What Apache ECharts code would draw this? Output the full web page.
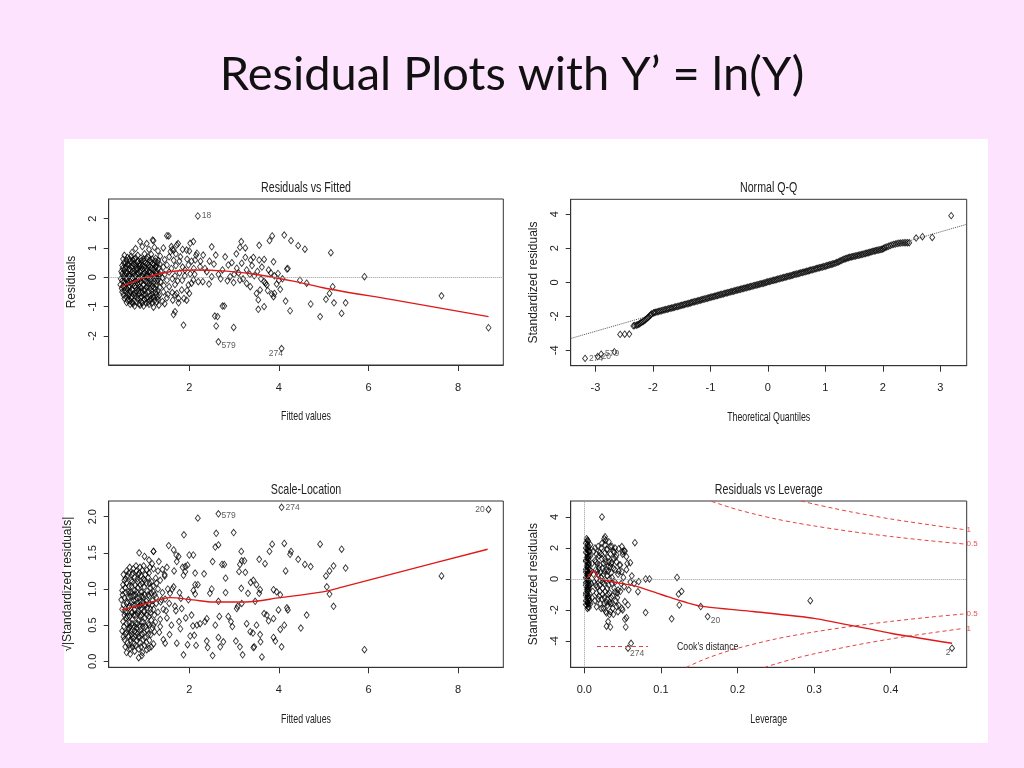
<!DOCTYPE html>
<html><head><meta charset="utf-8">
<script src="https://cdn.jsdelivr.net/npm/echarts@6/dist/echarts.min.js"></script>
<style>html,body{margin:0;padding:0;background:#fee3fe}#c{width:1024px;height:768px}</style>
</head><body><div id="c"></div><script>
// ---------- texts ----------
const slideTitle = 'Residual Plots with Y\u2019 = ln(Y)';
const panelTitles = ['Residuals vs Fitted', 'Normal Q-Q', 'Scale-Location', 'Residuals vs Leverage'];
const xNames = ['Fitted values', 'Theoretical Quantiles', 'Fitted values', 'Leverage'];
const yNames = ['Residuals', 'Standardized residuals', '\u221A|Standardized residuals|', 'Standardized residuals'];
const xTicks = [[2, 4, 6, 8], [-3, -2, -1, 0, 1, 2, 3], [2, 4, 6, 8], [0, 0.1, 0.2, 0.3, 0.4]];
const yTicks = [[-2, -1, 0, 1, 2], [-4, -2, 0, 2, 4], [0, 0.5, 1, 1.5, 2], [-4, -2, 0, 2, 4]];
const xRanges = [[0.2, 9.01], [-3.43, 3.46], [0.2, 9.01], [-0.0178, 0.4992]];
const yRanges = [[-2.99, 2.67], [-4.9, 4.88], [-0.083, 2.217], [-5.7, 5.03]];
const cookLegend = "Cook's distance";

// ---------- panel 1: residuals vs fitted ----------
const resFitPoints = [
[0.9,1.22],[1.18,1.27],[1.05,1.15],[1.5,1.42],
[0.72,0.85],[0.8,0.98],[0.95,1.05],[1.1,0.95],[1.22,1.02],[1.3,0.9],[1.42,1.0],[1.6,1.05],[1.75,1.15],[1.58,0.88],[1.85,0.95],[2.0,0.9],
[0.55,0.75],[0.62,0.68],[0.7,0.72],[0.78,0.62],[0.85,0.75],[0.92,0.66],[1.0,0.8],[1.08,0.7],[1.15,0.78],[1.25,0.65],[1.35,0.72],[1.45,0.6],[1.55,0.7],[1.65,0.58],[1.8,0.7],[1.95,0.62],[2.05,0.55],
[0.5,0.4],[0.58,0.48],[0.65,0.42],[0.72,0.5],[0.8,0.38],[0.88,0.46],[0.95,0.4],[1.02,0.5],[1.1,0.42],[1.18,0.48],[1.26,0.38],[1.34,0.45],[1.42,0.35],[1.5,0.42],[1.6,0.3],[1.7,0.4],[1.85,0.35],[1.98,0.42],[2.1,0.3],
[0.48,0.2],[0.55,0.25],[0.62,0.15],[0.68,0.22],[0.75,0.12],[0.82,0.25],[0.9,0.18],[0.97,0.1],[1.05,0.22],[1.12,0.15],[1.2,0.25],[1.28,0.12],[1.36,0.2],[1.45,0.1],[1.55,0.18],[1.68,0.05],[1.78,0.15],[1.9,0.05],[2.02,0.12],
[0.47,-0.05],[0.53,0.02],[0.6,-0.08],[0.66,0.05],[0.73,-0.02],[0.8,0.04],[0.87,-0.06],[0.94,0.0],[1.0,-0.1],[1.08,0.02],[1.15,-0.05],[1.23,0.05],[1.3,-0.08],[1.4,-0.02],[1.5,-0.1],[1.62,-0.05],[1.74,-0.12],
[0.46,-0.25],[0.52,-0.3],[0.58,-0.2],[0.64,-0.32],[0.7,-0.22],[0.77,-0.3],[0.84,-0.2],[0.9,-0.33],[0.97,-0.25],[1.04,-0.35],[1.11,-0.22],[1.18,-0.3],[1.26,-0.25],[1.34,-0.35],[1.43,-0.28],[1.55,-0.32],[1.68,-0.25],
[0.5,-0.5],[0.56,-0.45],[0.62,-0.55],[0.68,-0.48],[0.75,-0.58],[0.82,-0.45],[0.88,-0.55],[0.95,-0.5],[1.02,-0.6],[1.1,-0.48],[1.17,-0.58],[1.25,-0.5],[1.33,-0.62],[1.42,-0.5],[1.52,-0.58],[1.62,-0.52],
[0.55,-0.72],[0.62,-0.78],[0.7,-0.7],[0.77,-0.8],[0.85,-0.72],[0.92,-0.82],[1.0,-0.75],[1.08,-0.85],[1.15,-0.72],[1.22,-0.8],[1.3,-0.75],[1.4,-0.82],[1.5,-0.7],[1.63,-0.78],
[0.68,-0.92],[0.78,-0.98],[0.88,-0.9],[0.98,-0.98],[1.1,-0.92],[1.2,-1.02],[1.32,-0.95],[1.45,-0.9],
[0.6,0.58],[0.74,0.6],[0.86,0.55],[0.98,0.62],[1.12,0.58],[1.24,0.55],
[0.57,0.32],[0.7,0.35],[0.84,0.3],[0.96,0.28],[1.08,0.33],[1.22,0.3],[1.32,0.32],
[0.56,0.08],[0.69,0.1],[0.83,0.12],[0.95,0.06],[1.06,0.1],[1.18,0.08],[1.3,0.06],
[0.55,-0.14],[0.68,-0.15],[0.8,-0.12],[0.92,-0.16],[1.03,-0.12],[1.15,-0.15],[1.28,-0.14],
[0.6,-0.38],[0.73,-0.4],[0.86,-0.38],[0.99,-0.42],[1.12,-0.38],[1.24,-0.4],
[0.65,-0.63],[0.79,-0.65],[0.93,-0.66],[1.06,-0.67],[1.19,-0.66],[1.3,-0.66],
[0.72,-0.85],[0.95,-0.88],[1.12,-0.8],
[0.52,0.62],[0.66,0.63],[0.8,0.66],[0.93,0.57],[1.05,0.64],[1.17,0.62],[1.3,0.58],
[0.54,0.5],[0.61,0.44],[0.68,0.55],[0.76,0.45],[0.84,0.52],[0.91,0.43],[0.99,0.55],[1.06,0.45],[1.14,0.52],[1.21,0.43],[1.29,0.5],
[0.51,0.3],[0.59,0.36],[0.66,0.28],[0.74,0.38],[0.81,0.32],[0.88,0.38],[0.93,0.33],[1.0,0.36],[1.04,0.3],[1.12,0.36],[1.16,0.3],[1.25,0.34],
[0.5,0.12],[0.58,0.16],[0.65,0.1],[0.72,0.18],[0.79,0.08],[0.86,0.15],[0.92,0.22],[1.0,0.15],[1.03,0.04],[1.1,0.2],[1.16,0.12],[1.24,0.18],[1.34,0.1],
[0.5,-0.12],[0.57,-0.04],[0.63,-0.18],[0.7,-0.08],[0.77,-0.18],[0.84,-0.1],[0.89,-0.22],[0.97,-0.08],[1.06,-0.2],[1.12,-0.08],[1.2,-0.2],[1.27,-0.02],[1.36,-0.15],
[0.49,-0.38],[0.55,-0.35],[0.62,-0.42],[0.67,-0.3],[0.74,-0.45],[0.8,-0.35],[0.87,-0.46],[0.93,-0.36],[1.0,-0.46],[1.07,-0.3],[1.15,-0.45],[1.21,-0.35],[1.3,-0.45],
[0.53,-0.6],[0.59,-0.66],[0.66,-0.56],[0.72,-0.66],[0.79,-0.55],[0.86,-0.62],[0.91,-0.7],[0.98,-0.58],[1.04,-0.72],[1.13,-0.62],[1.2,-0.7],[1.27,-0.58],
[0.6,-0.86],[0.67,-0.8],[0.74,-0.9],[0.82,-0.84],[0.9,-0.95],[1.03,-0.88],[1.17,-0.88],[1.27,-0.85],
[1.62,0.95],[1.7,0.8],[1.78,0.55],[1.84,-0.1],[1.9,0.25],[1.95,-0.45],[2.05,-0.2],[2.12,0.1],[2.15,0.75],[2.2,-0.15],[1.68,-0.6],[1.76,-0.72],[2.0,-0.55],[2.25,0.55],[2.3,-0.15],[2.35,0.3],
[8.68,-1.72],[7.63,-0.63],[5.91,0.02],[5.16,0.84],[4.12,1.44],[4.27,1.25],[4.43,1.08],[4.58,0.96],[3.85,1.41],[3.79,1.25],[3.16,1.22],[3.13,1.02],[3.56,1.09],[4.18,0.28],[4.2,0.3],[4.47,-0.1],[4.62,-0.2],[4.71,-0.91],[4.92,-1.34],[5.05,-0.75],[5.13,-0.55],[5.2,-0.32],[5.23,-0.87],[5.4,-1.23],[5.49,-0.87],[4.15,-0.81],[4.25,-1.14],[3.95,-0.23],[4.03,-0.41],[3.88,-0.66],[3.84,-0.57],[3.54,-1.09],[3.67,-1.0],[3.54,-0.77],[3.5,-0.55],[3.58,-0.43],[3.67,-0.15],[3.73,-0.26],[3.36,-0.32],[3.28,-0.21],[3.13,-0.09],[2.99,-0.18],[2.91,0.02],[3.06,0.31],[3.17,0.48],[3.25,0.68],[3.37,0.59],[3.43,0.68],[3.56,0.59],[3.67,0.61],[3.88,0.53],[3.77,0.25],[3.28,0.25],[2.87,0.42],[2.8,0.7],[2.74,0.25],[2.59,0.76],[2.5,1.04],[2.31,0.76],[2.39,0.19],[2.5,0.02],[2.44,-0.23],[2.57,-1.32],[2.63,-1.34],[2.6,-1.66],[2.74,-0.98],[2.78,-0.98],[2.99,-1.71],[1.87,-1.63],[1.65,-1.27],[1.68,-1.17],[1.88,-0.72],[1.94,-0.78],[1.76,-0.87],[2.09,1.22],[2.02,1.16],[1.54,1.41],[1.2,1.25],[1.72,1.1],[1.65,0.93],[1.94,0.93],[2.17,0.82],[2.13,0.59],[2.24,0.36],[2.09,-0.09],[1.98,-0.26],[1.83,-0.43],[1.72,-0.55],
[3.0,0.1],[3.1,0.15],[3.2,-0.05],[3.35,0.1],[3.45,0.05],[3.6,-0.05],[3.7,-0.2],[3.9,0.05],[4.0,-0.1],[3.82,0.15],[2.65,0.1],[2.7,-0.05],[2.85,-0.12],[2.95,0.5],[3.4,0.4],[3.52,0.2],[3.62,0.35],[3.98,0.13],[4.08,-0.05],[3.25,1.0],[3.05,0.8],[2.55,0.45],[2.45,0.55],[3.75,-0.45],[3.9,-0.55]
];
const resFitIds = [[2.19, 2.09, '18'], [2.65, -2.2, '579'], [4.06, -2.43, '274']];
const resFitSmooth = [[0.49,-0.32],[0.97,-0.03],[1.56,0.19],[2.08,0.25],[2.83,0.21],[3.57,0.08],[4.32,-0.13],[5.06,-0.38],[6.56,-0.77],[8.68,-1.34]];

// ---------- panel 2: normal Q-Q ----------
const qqTheoretical = [
-2.67,-2.57,-2.49,-2.41,-2.34,-2.29,-2.25,-2.21,-2.17,-2.13,-2.09,-2.05,-2.02,-1.99,
-1.95,-1.9,-1.85,-1.8,-1.75,-1.7,-1.65,-1.6,-1.55,-1.5,-1.45,-1.4,-1.35,-1.3,-1.25,-1.2,-1.15,-1.1,-1.05,-1.0,
-0.95,-0.9,-0.85,-0.8,-0.75,-0.7,-0.65,-0.6,-0.55,-0.5,-0.45,-0.4,-0.35,-0.3,-0.25,-0.2,-0.15,-0.1,-0.05,0.0,
0.05,0.1,0.15,0.2,0.25,0.3,0.35,0.4,0.45,0.5,0.55,0.6,0.65,0.7,0.75,0.8,0.85,0.9,0.95,1.0,
1.05,1.1,1.15,1.2,1.25,1.3,1.35,1.4,1.45,1.5,1.55,1.6,1.65,1.7,1.75,1.8,1.85,1.9,1.95,
2.0,2.04,2.1,2.16,2.22,2.28,2.34,2.4,2.46,2.58,2.69,2.86,3.19];
const qqSample = [
-4.08,-3.06,-3.05,-3.04,-2.56,-2.52,-2.47,-2.38,-2.3,-2.2,-2.08,-1.95,-1.85,-1.8,
-1.76,-1.71,-1.67,-1.62,-1.58,-1.53,-1.49,-1.44,-1.4,-1.35,-1.3,-1.26,-1.21,-1.16,-1.12,-1.07,-1.02,-0.98,-0.93,-0.88,
-0.84,-0.79,-0.75,-0.7,-0.65,-0.61,-0.56,-0.52,-0.47,-0.43,-0.38,-0.34,-0.29,-0.25,-0.2,-0.16,-0.11,-0.07,-0.02,0.03,
0.07,0.12,0.16,0.21,0.26,0.3,0.35,0.39,0.44,0.49,0.53,0.58,0.62,0.67,0.72,0.76,0.81,0.86,0.9,0.95,
1.0,1.05,1.1,1.16,1.24,1.32,1.39,1.45,1.49,1.53,1.57,1.61,1.65,1.7,1.74,1.79,1.84,1.88,1.92,
1.96,2.05,2.12,2.2,2.25,2.3,2.32,2.33,2.33,2.6,2.68,2.64,3.92];
const qqTheoreticalMid = [
-2.32,-2.27,-2.23,-2.19,-2.15,-2.11,-2.07,-2.035,
-1.975,-1.925,-1.875,-1.825,-1.775,-1.725,-1.675,-1.625,-1.575,-1.525,-1.475,-1.425,-1.375,-1.325,-1.275,-1.225,-1.175,-1.125,-1.075,-1.025,
-0.975,-0.925,-0.875,-0.825,-0.775,-0.725,-0.675,-0.625,-0.575,-0.525,-0.475,-0.425,-0.375,-0.325,-0.275,-0.225,-0.175,-0.125,-0.075,-0.025,
0.025,0.075,0.125,0.175,0.225,0.275,0.325,0.375,0.425,0.475,0.525,0.575,0.625,0.675,0.725,0.775,0.825,0.875,0.925,0.975,
1.025,1.075,1.125,1.175,1.225,1.275,1.325,1.375,1.425,1.475,1.525,1.575,1.625,1.675,1.725,1.775,1.825,1.875,1.925,1.975,
2.02,2.07,2.13,2.19,2.25,2.31,2.37,2.43];
const qqSampleMid = [
-2.54,-2.5,-2.43,-2.34,-2.25,-2.14,-2.02,-1.9,
-1.78,-1.73,-1.69,-1.64,-1.6,-1.55,-1.51,-1.46,-1.42,-1.37,-1.33,-1.28,-1.24,-1.19,-1.14,-1.1,-1.05,-1.0,-0.95,-0.91,
-0.86,-0.82,-0.77,-0.72,-0.68,-0.63,-0.59,-0.54,-0.5,-0.45,-0.41,-0.36,-0.32,-0.27,-0.23,-0.18,-0.14,-0.09,-0.05,0.01,
0.05,0.1,0.14,0.19,0.24,0.28,0.33,0.37,0.42,0.47,0.51,0.56,0.6,0.65,0.7,0.74,0.79,0.84,0.88,0.93,
0.98,1.03,1.08,1.13,1.2,1.28,1.36,1.42,1.47,1.51,1.55,1.59,1.63,1.68,1.72,1.77,1.82,1.86,1.9,1.94,
2.0,2.08,2.16,2.23,2.28,2.31,2.33,2.33];
const qqIds = [[-3.18, -4.47, '274'], [-2.96, -4.36, '20'], [-2.9, -4.22, '579']];
const qqLine = [[-3.43, -3.3], [3.46, 3.41]];

// ---------- panel 3: scale-location ----------
const scaleLocPoints = [
[0.88,1.5],[1.0,1.45],[1.1,1.4],[1.2,1.52],[1.32,1.38],
[0.65,1.22],[0.75,1.28],[0.82,1.25],[0.9,1.3],[0.98,1.32],[1.05,1.26],[1.12,1.3],[1.2,1.28],[1.3,1.25],[1.4,1.27],[1.5,1.3],
[0.55,1.12],[0.62,1.18],[0.7,1.12],[0.78,1.16],[0.85,1.1],[0.92,1.18],[1.0,1.12],[1.08,1.16],[1.16,1.1],[1.25,1.15],[1.35,1.12],[1.45,1.18],
[0.5,0.98],[0.57,1.02],[0.64,0.96],[0.71,1.04],[0.78,0.98],[0.85,1.02],[0.92,0.96],[0.99,1.03],[1.06,0.97],[1.13,1.02],[1.2,0.96],[1.3,1.0],[1.4,0.95],[1.52,1.0],
[0.48,0.85],[0.55,0.88],[0.62,0.82],[0.69,0.9],[0.76,0.84],[0.83,0.88],[0.9,0.82],[0.97,0.88],[1.04,0.83],[1.11,0.9],[1.18,0.84],[1.26,0.88],[1.36,0.82],[1.46,0.86],
[0.5,0.72],[0.57,0.68],[0.64,0.74],[0.71,0.67],[0.78,0.72],[0.85,0.66],[0.92,0.73],[0.99,0.68],[1.06,0.74],[1.13,0.67],[1.2,0.72],[1.3,0.68],[1.42,0.72],
[0.52,0.55],[0.59,0.6],[0.66,0.53],[0.73,0.58],[0.8,0.52],[0.87,0.57],[0.94,0.54],[1.01,0.6],[1.08,0.52],[1.15,0.57],[1.24,0.54],[1.35,0.58],
[0.5,0.42],[0.57,0.38],[0.64,0.44],[0.71,0.37],[0.78,0.42],[0.85,0.38],[0.92,0.44],[0.99,0.39],[1.06,0.43],[1.14,0.37],[1.22,0.41],[1.33,0.4],
[0.55,0.3],[0.62,0.25],[0.69,0.3],[0.76,0.24],[0.83,0.29],[0.9,0.25],[0.97,0.3],[1.04,0.26],[1.11,0.29],[1.2,0.24],
[0.6,0.12],[0.68,0.18],[0.78,0.14],[0.87,0.17],[0.95,0.12],[1.05,0.16],[1.15,0.2],
[0.68,0.1],[0.87,0.05],[0.94,0.08],
[0.6,1.08],[0.72,1.2],[0.86,1.2],[0.95,1.08],[0.68,0.95],[0.8,0.92],[0.94,0.9],[0.74,0.78],[0.88,0.76],[1.0,0.78],[0.62,0.62],[0.76,0.64],[0.9,0.62],[0.68,0.48],[0.82,0.46],[0.96,0.48],[0.72,0.33],[0.86,0.33],[1.1,0.62],[1.18,0.46],
[0.53,1.2],[0.6,1.25],[0.67,1.3],[0.74,1.22],[0.81,1.32],[0.88,1.22],[0.95,1.26],[1.02,1.2],[1.1,1.22],[1.17,1.35],
[0.52,1.06],[0.58,1.14],[0.65,1.04],[0.72,1.1],[0.79,1.05],[0.84,1.14],[0.9,1.06],[0.97,1.14],[1.04,1.08],[1.11,1.08],[1.19,1.04],[1.27,1.08],
[0.51,0.92],[0.58,0.95],[0.64,0.88],[0.7,0.96],[0.76,0.9],[0.82,0.96],[0.88,0.88],[0.94,0.96],[1.0,0.92],[1.08,0.92],[1.15,0.94],[1.23,0.92],
[0.53,0.78],[0.6,0.8],[0.66,0.76],[0.72,0.82],[0.79,0.78],[0.85,0.8],[0.91,0.78],[0.97,0.82],[1.03,0.78],[1.1,0.8],[1.17,0.78],[1.26,0.8],
[0.55,0.64],[0.61,0.68],[0.67,0.62],[0.73,0.68],[0.8,0.64],[0.86,0.7],[0.93,0.64],[0.99,0.7],[1.05,0.64],[1.13,0.72],[1.22,0.64],
[0.54,0.48],[0.6,0.52],[0.66,0.46],[0.72,0.52],[0.78,0.48],[0.84,0.52],[0.9,0.48],[0.97,0.54],[1.03,0.48],[1.1,0.5],[1.2,0.5],
[0.53,0.34],[0.6,0.4],[0.65,0.34],[0.7,0.42],[0.75,0.32],[0.81,0.4],[0.88,0.34],[0.94,0.38],[1.01,0.33],[1.09,0.38],
[0.57,0.2],[0.65,0.22],[0.73,0.2],[0.8,0.22],[0.92,0.2],[1.0,0.22],[1.1,0.18],
[1.45,1.2],[1.5,0.6],[1.42,0.3],[1.55,0.8],[1.6,0.5],[1.62,1.0],[1.7,0.7],[1.72,0.25],[1.66,1.25],[1.78,0.95],[1.8,0.45],[1.85,1.3],[1.92,0.6],[1.98,0.85],[2.02,0.35],[1.48,0.7],
[2.19,1.98],[7.63,1.18],[5.91,0.16],[4.92,1.62],[5.4,1.55],[5.49,1.29],[5.22,1.32],[5.13,1.25],[5.05,1.18],[5.07,1.03],[5.13,0.93],[5.22,0.76],
[4.12,1.63],[4.27,1.52],[4.25,1.48],[4.43,1.41],[4.58,1.34],[4.71,1.31],[4.15,1.25],[4.18,0.74],[4.2,0.71],[4.62,0.64],[4.49,0.46],[4.12,0.5],[4.03,0.44],[4.06,0.2],[3.99,0.71],[4.03,0.92],[3.95,0.96],[3.88,0.99],
[3.85,1.62],[3.79,1.52],[3.69,1.35],[3.56,1.41],[3.58,0.99],[3.56,0.94],[3.5,1.06],[3.43,1.12],[3.47,0.83],[3.5,0.5],[3.58,0.37],[3.59,0.27],[3.62,0.06],[3.67,0.66],[3.73,0.64],[3.77,0.56],[3.88,0.33],[3.92,0.28],[3.88,0.59],[3.37,1.09],
[3.16,1.52],[3.17,1.39],[3.23,1.39],[3.13,1.34],[3.11,1.24],[3.25,1.23],[3.16,1.01],[3.31,0.94],[3.17,0.8],[3.08,0.76],[3.06,0.73],[3.28,0.52],[3.36,0.41],[3.42,0.39],[3.43,0.19],[3.45,0.2],[3.19,0.09],[3.13,0.2],[3.04,0.28],[2.96,0.48],
[2.99,1.78],[2.6,1.77],[2.65,1.61],[2.58,1.58],[2.73,1.34],[2.78,1.34],[2.81,1.15],[2.81,0.95],[2.65,0.83],[2.67,0.62],[2.87,0.62],[2.93,0.55],[2.76,0.27],[2.69,0.2],[2.65,0.33],[2.58,0.5],
[2.52,1.38],[2.5,1.0],[2.46,0.94],[2.52,0.08],[2.39,0.28],[2.41,0.19],[2.35,0.55],[2.39,0.59],[2.24,0.52],[2.17,0.5],[2.33,1.21],[2.19,1.06],[2.09,0.98],[2.13,0.93],
[2.09,1.47],[2.0,1.47],[1.88,1.75],[1.96,1.33],[1.91,1.31],[1.91,1.24],[1.87,1.19],[2.13,1.22],[2.13,1.06],[2.05,0.64],[2.08,0.49],[2.11,0.36],[2.15,0.22],[1.96,0.23],[1.87,0.09],
[1.83,0.73],[1.81,0.87],[1.77,0.55],[1.68,0.76],[1.65,1.03],[1.72,1.38],[1.54,1.6],[1.65,1.54],[1.71,1.47],[1.76,1.45],[1.57,0.94],[1.56,0.37],[1.46,0.25],[1.35,0.48],[1.38,0.85],[1.2,1.52]
];
const scaleLocIds = [[2.65, 2.04, '579'], [4.06, 2.13, '274'], [8.68, 2.1, '20']];
const scaleLocSmooth = [[0.49,0.71],[1.05,0.8],[1.56,0.88],[2.08,0.85],[2.53,0.82],[3.27,0.82],[4.02,0.88],[4.98,0.96],[5.43,1.03],[6.54,1.21],[8.66,1.55]];

// ---------- panel 4: residuals vs leverage ----------
const levPoints = [
[0.003,2.6],[0.005,2.45],[0.002,2.3],[0.004,2.2],[0.006,2.1],[0.003,1.95],[0.005,1.85],[0.002,1.72],[0.004,1.6],[0.006,1.5],[0.003,1.38],[0.005,1.27],[0.002,1.15],[0.004,1.05],[0.006,0.95],[0.003,0.84],[0.005,0.73],[0.002,0.62],[0.004,0.52],[0.006,0.42],[0.003,0.3],[0.005,0.2],[0.002,0.1],[0.004,0.0],[0.006,-0.1],[0.003,-0.2],[0.005,-0.3],[0.002,-0.4],[0.004,-0.5],[0.006,-0.6],[0.003,-0.7],[0.005,-0.8],[0.002,-0.9],[0.004,-1.0],[0.006,-1.1],[0.003,-1.2],[0.005,-1.3],[0.002,-1.4],[0.004,-1.5],[0.006,-1.6],[0.003,-1.7],[0.005,-1.8],[0.004,-1.9],[0.007,1.8],[0.007,0.6],[0.007,-0.4],[0.007,-1.4],[0.008,2.2],
[0.004,2.5],[0.002,2.0],[0.006,1.75],[0.004,1.4],[0.002,1.2],[0.006,1.05],[0.004,0.78],[0.002,0.45],[0.006,0.25],[0.004,-0.05],[0.002,-0.25],[0.006,-0.45],[0.004,-0.75],[0.002,-1.05],[0.006,-1.25],[0.004,-1.55],[0.002,-1.65],[0.006,-1.85],[0.003,2.4],[0.005,2.05],[0.003,1.65],[0.005,1.45],[0.003,1.1],[0.005,0.9],[0.003,0.55],[0.005,0.35],[0.003,0.05],[0.005,-0.15],[0.003,-0.55],[0.005,-0.65],[0.003,-0.95],[0.005,-1.15],[0.003,-1.45],[0.005,-1.6],[0.004,1.9],[0.004,0.3],
[0.012,1.8],[0.014,1.2],[0.015,0.6],[0.013,-0.2],[0.016,-0.9],[0.014,-1.4],[0.018,2.1],[0.019,1.5],[0.02,0.9],[0.018,0.3],[0.02,-0.4],[0.019,-1.1],[0.021,-1.6],[0.022,2.0],[0.023,1.3],[0.024,0.7],[0.022,0.1],[0.024,-0.6],[0.023,-1.3],[0.025,-1.9],[0.026,2.6],[0.027,2.2],[0.027,1.7],[0.028,1.1],[0.026,0.5],[0.028,-0.1],[0.027,-0.8],[0.029,-1.5],[0.028,-2.1],[0.03,1.9],[0.031,1.4],[0.031,0.8],[0.03,0.2],[0.032,-0.4],[0.031,-1.0],[0.03,-1.7],[0.033,-2.3],[0.034,1.6],[0.035,1.0],[0.035,0.4],[0.036,-0.3],[0.035,-1.2],[0.037,-1.9],[0.038,1.3],[0.04,0.6],[0.039,-0.6],[0.041,-1.4],[0.042,1.1],[0.044,0.3],[0.043,-0.9],[0.046,0.9],[0.048,-0.3],[0.05,1.6],[0.052,-0.5],[0.055,0.6],[0.058,-0.7],[0.062,0.2],[0.065,-0.3],[0.045,-1.7],[0.05,-2.0],[0.053,1.8],[0.04,2.0],[0.036,2.1],[0.032,2.4],
[0.016,0.0],[0.017,-0.5],[0.021,0.4],[0.025,1.0],[0.029,0.6],[0.033,0.0],[0.024,-1.0],[0.02,1.7],[0.017,1.0],[0.026,-0.3],[0.03,-1.3],[0.022,-1.9],[0.034,-1.6],[0.028,2.5],[0.012,0.3],[0.011,-0.8],[0.01,1.0],[0.01,-1.2],[0.009,0.5],[0.009,-0.3],[0.008,1.5],[0.008,-1.6],
[0.014,2.0],[0.016,1.6],[0.015,1.1],[0.017,0.5],[0.015,-0.4],[0.018,-1.3],[0.016,-1.8],[0.019,0.7],[0.021,-0.1],[0.02,-0.8],[0.023,2.3],[0.022,1.6],[0.025,0.3],[0.024,-0.2],[0.026,-1.2],[0.026,-1.6],[0.027,1.3],[0.029,1.9],[0.03,-0.6],[0.029,-2.2],[0.031,0.5],[0.032,1.1],[0.033,-0.9],[0.034,0.8],[0.033,-1.5],[0.036,0.1],[0.037,-1.1],[0.038,1.8],[0.04,-0.2],[0.041,1.4],[0.043,-1.2],[0.045,0.5],[0.047,-0.8],[0.051,0.1],[0.056,1.0],[0.06,-0.2],
[0.023,4.0],[0.027,2.73],[0.066,2.34],[0.06,1.05],[0.08,0.0],[0.085,0.0],[0.071,-0.17],[0.07,-0.82],[0.121,0.1],[0.123,-0.98],[0.127,-0.8],[0.124,-1.68],[0.114,-2.57],[0.08,-2.17],[0.055,-2.5],[0.053,-2.6],[0.054,-3.1],[0.029,-3.05],[0.034,-3.1],[0.057,-1.68],[0.053,-1.46],[0.152,-1.78],[0.295,-1.4],[0.049,2.09],[0.052,1.81],[0.055,1.44],[0.042,1.55],[0.047,0.9],[0.049,0.47],[0.044,-0.71],[0.042,-1.78],[0.044,-2.11],[0.049,-1.89],[0.038,-2.28],[0.034,-2.11],[0.031,-2.75],[0.036,-1.57],[0.04,-0.82],[0.038,0.69],[0.036,1.08],[0.039,1.72],[0.034,2.09],[0.045,1.95],[0.05,1.75],[0.061,-4.15]
];
const levIds = [[0.057, -4.47, '274'], [0.161, -2.43, '20'], [0.48, -4.47, '2']];
const levSmooth = [[0.004,0.05],[0.011,0.5],[0.015,0.38],[0.018,0.08],[0.031,-0.13],[0.066,-0.45],[0.1,-1.0],[0.15,-1.74],[0.22,-2.1],[0.3,-2.54],[0.4,-3.5],[0.48,-4.15]];
const cookUpper05 = [[0.166,5.01],[0.175,4.86],[0.19,4.62],[0.2,4.47],[0.225,4.15],[0.25,3.87],[0.275,3.63],[0.3,3.42],[0.35,3.05],[0.4,2.74],[0.45,2.47],[0.495,2.26]];
const cookUpper1 = [[0.283,5.03],[0.3,4.83],[0.325,4.56],[0.35,4.31],[0.4,3.87],[0.45,3.5],[0.495,3.19]];
const cookLower05 = [[0.133,-5.71],[0.15,-5.32],[0.165,-5.03],[0.18,-4.77],[0.2,-4.47],[0.25,-3.87],[0.3,-3.42],[0.35,-3.05],[0.4,-2.74],[0.45,-2.47],[0.495,-2.26]];
const cookLower1 = [[0.235,-5.71],[0.25,-5.48],[0.275,-5.13],[0.3,-4.83],[0.35,-4.31],[0.4,-3.87],[0.45,-3.5],[0.495,-3.19]];
const cookLevels = ['0.5', '1', '0.5', '1'];

// ---------- layout / styles ----------
const REG = "'Liberation Sans',Arial,sans-serif";
const TXT = '#222';
const grids = [
  {left: 108.7, top: 199, width: 394.6, height: 166},
  {left: 570.7, top: 199.3, width: 396, height: 166.4},
  {left: 108.7, top: 501, width: 394.6, height: 166.3},
  {left: 570.7, top: 501, width: 396, height: 166.3}
];
const yNameGaps = [31, 31, 35, 31];
const oneDec = [false, false, false, true];
const oneDecY = [false, false, true, false];
const SQUEEZE = 0.71;

const chart = echarts.init(document.getElementById('c'), null, {renderer: 'canvas'});

const xAxes = grids.map((g, i) => ({
  type: 'value', gridIndex: i, min: xRanges[i][0], max: xRanges[i][1],
  axisLine: {show: true, onZero: false, lineStyle: {color: '#333', width: 1}},
  axisTick: {show: true, inside: false, length: 6, customValues: xTicks[i], lineStyle: {color: '#333'}},
  axisLabel: {show: true, margin: 17, customValues: xTicks[i], fontFamily: REG, fontSize: 11, color: TXT,
    formatter: v => oneDec[i] ? Number(v).toFixed(1) : String(v)},
  splitLine: {show: false}
}));
const yAxes = grids.map((g, i) => ({
  type: 'value', gridIndex: i, min: yRanges[i][0], max: yRanges[i][1],
  name: yNames[i], nameLocation: 'middle', nameGap: yNameGaps[i], nameRotate: 90,
  nameTextStyle: {fontFamily: REG, fontSize: 12, color: TXT},
  axisLine: {show: true, onZero: false, lineStyle: {color: '#333', width: 1}},
  axisTick: {show: true, inside: false, length: 5, customValues: yTicks[i], lineStyle: {color: '#333'}},
  axisLabel: {show: true, rotate: 90, margin: 10, customValues: yTicks[i], fontFamily: REG, fontSize: 11, color: TXT,
    formatter: v => oneDecY[i] ? Number(v).toFixed(1) : String(v)},
  splitLine: {show: false}
}));

const pointStyle = {
  type: 'scatter', symbol: 'diamond', symbolSize: [5, 6.5], silent: true,
  itemStyle: {color: 'rgba(0,0,0,0)', borderColor: '#000', borderWidth: 0.9}
};
function scatter(i, data, extra) {
  return Object.assign({}, pointStyle, {xAxisIndex: i, yAxisIndex: i, data: data, z: 2}, extra || {});
}
function idSeries(i, ids, positions) {
  return Object.assign({}, pointStyle, {
    xAxisIndex: i, yAxisIndex: i, z: 2,
    data: ids.map((d, k) => ({
      value: [d[0], d[1]],
      label: {show: true, formatter: d[2], position: positions[k], distance: 1,
        fontFamily: REG, fontSize: 8.5, color: '#333'}
    }))
  });
}
function lineSeries(i, data, style, extra) {
  return Object.assign({
    type: 'line', xAxisIndex: i, yAxisIndex: i, data: data, showSymbol: false, symbol: 'none',
    smooth: 0.3, silent: true, z: 3, lineStyle: style, clip: true
  }, extra || {});
}
const redSmooth = {color: '#e01818', width: 1.4};
const cookStyle = {color: '#e84040', width: 1, type: [4, 3]};
const zeroLine = {silent: true, symbol: 'none', label: {show: false}, animation: false,
  lineStyle: {type: 'dotted', color: '#9a9a9a', width: 1}};

const qqPoints = qqTheoretical.map((t, k) => [t, qqSample[k]])
  .concat(qqTheoreticalMid.map((t, k) => [t, qqSampleMid[k]]));

const series = [
  scatter(0, resFitPoints, {markLine: Object.assign({}, zeroLine, {data: [{yAxis: 0}]})}),
  idSeries(0, resFitIds, ['right', [6, 3], ['-170%', 4]]),
  lineSeries(0, resFitSmooth, redSmooth),
  scatter(1, qqPoints),
  idSeries(1, qqIds, ['right', 'right', 'right']),
  lineSeries(1, qqLine, {color: '#555', width: 1, type: 'dotted'}, {smooth: false, z: 1}),
  scatter(2, scaleLocPoints),
  idSeries(2, scaleLocIds, [[6, 1], 'right', 'left']),
  lineSeries(2, scaleLocSmooth, redSmooth),
  scatter(3, levPoints, {markLine: Object.assign({}, zeroLine, {data: [{yAxis: 0}, {xAxis: 0}]})}),
  idSeries(3, levIds, [[5, 5], [6, 3], ['-60%', 4]]),
  lineSeries(3, levSmooth, redSmooth, {smooth: 0.2})
];
[cookUpper05, cookUpper1, cookLower05, cookLower1].forEach((c, k) => {
  series.push(lineSeries(3, c, cookStyle, {
    z: 2,
    endLabel: {show: true, formatter: cookLevels[k], distance: 3, fontFamily: REG, fontSize: 8, color: '#e85050'}
  }));
});

// panel titles and x-axis names: condensed text like the squeezed R output
const squeezedTexts = [];
grids.forEach((g, i) => {
  const cx = g.left + g.width / 2;
  squeezedTexts.push({type: 'text', z: 10, silent: true, x: cx, y: g.top - 11, scaleX: SQUEEZE,
    style: {text: panelTitles[i], fontFamily: REG, fontSize: 15, fill: TXT, align: 'center', verticalAlign: 'middle'}});
  squeezedTexts.push({type: 'text', z: 10, silent: true, x: cx, y: g.top + g.height + 52, scaleX: SQUEEZE,
    style: {text: xNames[i], fontFamily: REG, fontSize: 12.4, fill: TXT, align: 'center', verticalAlign: 'middle'}});
});

const option = {
  animation: false,
  backgroundColor: '#fee3fe',
  title: {
    text: slideTitle, left: 'center', top: 46,
    textStyle: {fontFamily: 'Lato', fontSize: 47, fontWeight: 'normal', color: '#111'}
  },
  graphic: [
    {type: 'rect', z: -100, shape: {x: 64, y: 139, width: 924, height: 604}, style: {fill: '#ffffff'}, silent: true},
    {type: 'line', z: 10, shape: {x1: 597, y1: 646.5, x2: 648, y2: 646.5}, style: {stroke: '#e84040', lineWidth: 1, lineDash: [4, 3]}, silent: true},
    {type: 'text', z: 10, x: 677, y: 647, scaleX: 0.76, silent: true,
      style: {text: cookLegend, fontFamily: REG, fontSize: 11.5, fill: TXT, align: 'left', verticalAlign: 'middle'}}
  ].concat(squeezedTexts),
  grid: grids.map(g => Object.assign({show: true, backgroundColor: '#ffffff', borderColor: '#333', borderWidth: 1, containLabel: false}, g)),
  xAxis: xAxes,
  yAxis: yAxes,
  series: series
};
chart.setOption(option);
</script></body></html>
